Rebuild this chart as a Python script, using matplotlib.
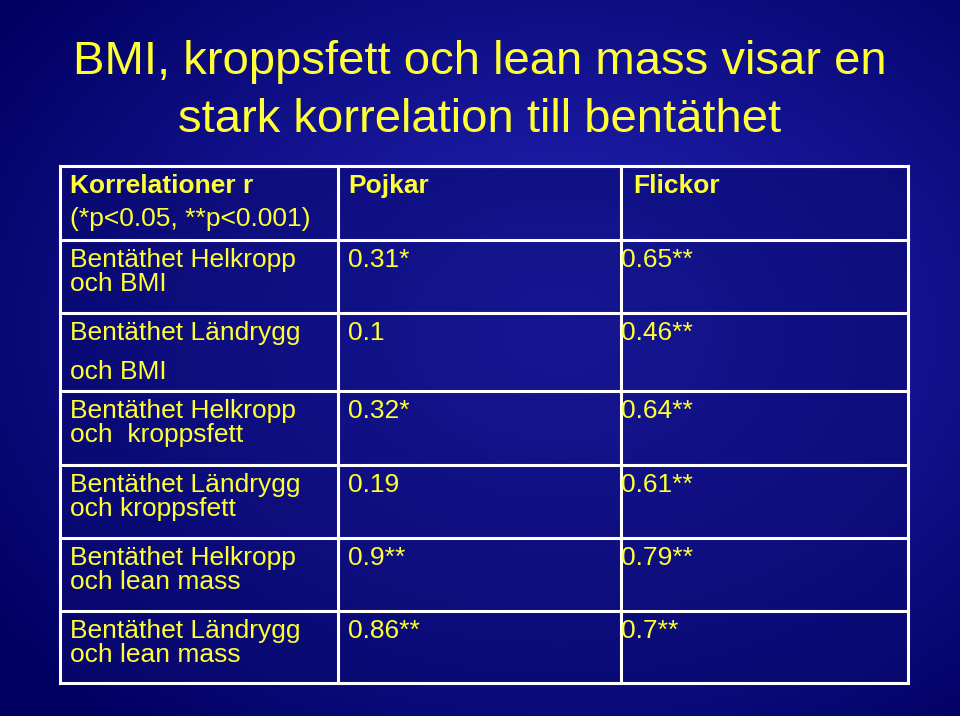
import numpy as np
import matplotlib
matplotlib.use("Agg")
import matplotlib.pyplot as plt

title_lines = ["BMI, kroppsfett och lean mass visar en", "stark korrelation till bentäthet"]
header = ["Korrelationer r\n(*p<0.05, **p<0.001)", "Pojkar", "Flickor"]
row_labels = ["Bentäthet Helkropp\noch BMI", "Bentäthet Ländrygg\n\noch BMI",
              "Bentäthet Helkropp\noch  kroppsfett", "Bentäthet Ländrygg\noch kroppsfett",
              "Bentäthet Helkropp\noch lean mass", "Bentäthet Ländrygg\noch lean mass"]
pojkar = ["0.31*", "0.1", "0.32*", "0.19", "0.9**", "0.86**"]
flickor = ["0.65**", "0.46**", "0.64**", "0.61**", "0.79**", "0.7**"]

fig = plt.figure(figsize=(9.6, 7.16), dpi=100)
ax = fig.add_axes([0, 0, 1, 1])
ax.set_xlim(0, 960); ax.set_ylim(716, 0); ax.axis("off")

yy, xx = np.mgrid[0:716, 0:960]
d = np.sqrt(((xx - 560) / 700) ** 2 + ((yy - 330) / 520) ** 2)
t = np.clip(d, 0, 1)
c0 = np.array([0.15, 0.15, 0.75]); c1 = np.array([0.0, 0.0, 0.38])
img = c0[None, None, :] * (1 - t[..., None]) + c1[None, None, :] * t[..., None]
ax.imshow(img, extent=[0, 960, 716, 0], aspect="auto", zorder=0)

yellow = "#ffff33"
tkw = dict(ha="center", va="center", fontsize=34, color=yellow, family="Liberation Sans")
ax.text(480, 62, title_lines[0], **tkw)
ax.text(480, 120, title_lines[1], **tkw)

xs = [60, 338, 621, 908]
ys = [166, 240, 313, 391, 465, 538, 611, 683]
ax.add_patch(plt.Rectangle((60, 166), 848, 517, color="#0a0a70", alpha=0.55, zorder=1))
for x in xs:
    ax.plot([x, x], [ys[0], ys[-1]], color="white", lw=2.2, zorder=2)
for y in ys:
    ax.plot([xs[0], xs[-1]], [y, y], color="white", lw=2.2, zorder=2)

fs = 19
kw = dict(color=yellow, family="Liberation Sans", va="top", ha="left", fontsize=fs, linespacing=1.0, zorder=3)
h0, h1 = header[0].split("\n")
ax.text(70, 174, h0, fontweight="bold", **kw)
ax.text(70, 207, h1, **kw)
ax.text(348, 174, header[1], fontweight="bold", **kw)
ax.text(633, 174, header[2], fontweight="bold", **kw)
for i in range(6):
    y = ys[i + 1] + 8
    lbl = row_labels[i]
    if "\n\n" in lbl:
        a, b = lbl.split("\n\n")
        ax.text(70, y, a, **kw)
        ax.text(70, y + 39, b, **kw)
    else:
        ax.text(70, y, lbl, **kw)
    ax.text(348, y, pojkar[i], **kw)
    ax.text(621, y, flickor[i], **kw)

fig.savefig("out.png", dpi=100)
